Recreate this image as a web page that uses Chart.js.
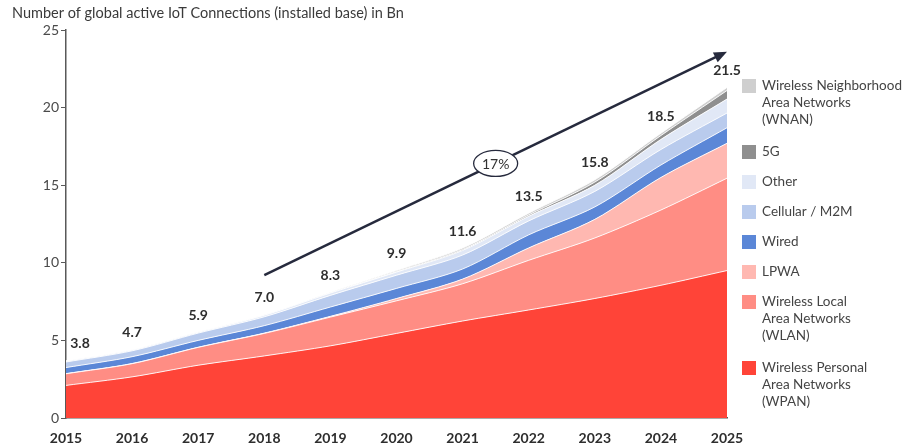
<!DOCTYPE html>
<html>
<head>
<meta charset="utf-8">
<script src="https://cdn.jsdelivr.net/npm/chart.js@4.4.0/dist/chart.umd.min.js"></script>
<style>
  html, body { margin: 0; padding: 0; background: #fff; }
  #wrap { width: 903px; height: 445px; position: relative; }
</style>
</head>
<body>
<div id="wrap"><canvas id="iotChart"></canvas></div>
<script>
// Data (Bn connections per technology)
const years = ['2015', '2016', '2017', '2018', '2019', '2020', '2021', '2022', '2023', '2024', '2025'];
const wpan     = [2.1, 2.65, 3.4, 4.0, 4.65, 5.45, 6.25, 6.96, 7.7, 8.55, 9.5];
const wlan     = [0.75, 0.85, 1.15, 1.45, 1.85, 2.1, 2.4, 3.2, 3.9, 4.85, 5.95];
const lpwa     = [0.01, 0.01, 0.01, 0.02, 0.05, 0.15, 0.3, 0.8, 1.2, 2.1, 2.25];
const wired    = [0.39, 0.44, 0.44, 0.48, 0.6, 0.65, 0.65, 0.84, 0.8, 0.8, 1.0];
const cellular = [0.36, 0.38, 0.47, 0.57, 0.75, 0.85, 0.9, 0.9, 1.0, 1.0, 0.95];
const other    = [0.05, 0.05, 0.05, 0.1, 0.15, 0.2, 0.3, 0.3, 0.4, 0.65, 0.9];
const fiveG    = [0, 0, 0, 0, 0, 0.03, 0.05, 0.08, 0.2, 0.25, 0.55];
const wnan     = [0.02, 0.02, 0.02, 0.03, 0.04, 0.07, 0.1, 0.12, 0.15, 0.15, 0.2];
const totalLabels = ['3.8', '4.7', '5.9', '7.0', '8.3', '9.9', '11.6', '13.5', '15.8', '18.5', '21.5'];
const yTicks = [0, 5, 10, 15, 20, 25];
const cagrLabel = '17%';
const arrowFrom = { year: '2018', value: 9.2 };
const arrowTo = { year: '2025', value: 23.6 };
const chartTitle = 'Number of global active IoT Connections (installed base) in Bn';

const FONT = 'Lato, "Open Sans", sans-serif';

// bottom to top of the stack
const series = [
  { label: ['Wireless Personal', 'Area Networks', '(WPAN)'], data: wpan, color: '#ff4438' },
  { label: ['Wireless Local', 'Area Networks', '(WLAN)'], data: wlan, color: '#ff8d84' },
  { label: ['LPWA'], data: lpwa, color: '#ffb8b1' },
  { label: ['Wired'], data: wired, color: '#5b87d7' },
  { label: ['Cellular / M2M'], data: cellular, color: '#b9cbed' },
  { label: ['Other'], data: other, color: '#e1e8f6' },
  { label: ['5G'], data: fiveG, color: '#8f8f8f' },
  { label: ['Wireless Neighborhood', 'Area Networks', '(WNAN)'], data: wnan, color: '#cfcfcf' }
];

const datasets = series.map((s, i) => ({
  label: s.label.join(' '),
  data: s.data,
  backgroundColor: s.color,
  borderColor: 'rgba(255,255,255,0.9)',
  borderWidth: 1,
  pointRadius: 0,
  tension: 0.3,
  fill: i === 0 ? 'origin' : '-1'
}));

// Title, totals, CAGR arrow and legend
const extrasPlugin = {
  id: 'extras',
  afterDraw(chart) {
    const { ctx, scales: { x, y } } = chart;
    ctx.save();

    ctx.fillStyle = '#3a3a3a';
    ctx.font = '14.5px ' + FONT;
    ctx.textAlign = 'left';
    ctx.textBaseline = 'middle';
    ctx.fillText(chartTitle, 12, 13);

    // totals above the stack
    ctx.font = 'bold 14px ' + FONT;
    ctx.fillStyle = '#2e2e2e';
    ctx.textAlign = 'center';
    years.forEach((yr, i) => {
      const sum = series.reduce((a, s) => a + s.data[i], 0);
      let px = x.getPixelForValue(i);
      if (i === 0) px += 14;
      ctx.fillText(totalLabels[i], px, y.getPixelForValue(sum) - 17);
    });

    // CAGR arrow
    const x0 = x.getPixelForValue(years.indexOf(arrowFrom.year));
    const y0 = y.getPixelForValue(arrowFrom.value);
    const x1 = x.getPixelForValue(years.indexOf(arrowTo.year));
    const y1 = y.getPixelForValue(arrowTo.value);
    const ang = Math.atan2(y1 - y0, x1 - x0);
    ctx.strokeStyle = '#262a3d';
    ctx.fillStyle = '#262a3d';
    ctx.lineWidth = 2.5;
    ctx.beginPath();
    ctx.moveTo(x0, y0);
    ctx.lineTo(x1 - 8 * Math.cos(ang), y1 - 8 * Math.sin(ang));
    ctx.stroke();
    ctx.beginPath();
    ctx.moveTo(x1, y1);
    ctx.lineTo(x1 - 13 * Math.cos(ang) + 5.5 * Math.sin(ang), y1 - 13 * Math.sin(ang) - 5.5 * Math.cos(ang));
    ctx.lineTo(x1 - 13 * Math.cos(ang) - 5.5 * Math.sin(ang), y1 - 13 * Math.sin(ang) + 5.5 * Math.cos(ang));
    ctx.closePath();
    ctx.fill();

    const mx = (x0 + x1) / 2, my = (y0 + y1) / 2;
    ctx.beginPath();
    ctx.ellipse(mx, my, 22, 13, 0, 0, Math.PI * 2);
    ctx.fillStyle = '#fff';
    ctx.fill();
    ctx.lineWidth = 1.3;
    ctx.stroke();
    ctx.fillStyle = '#333';
    ctx.font = '14px ' + FONT;
    ctx.fillText(cagrLabel, mx, my + 1);

    // legend, top of stack first
    ctx.textAlign = 'left';
    ctx.font = '13.5px ' + FONT;
    let ly = 86;
    series.slice().reverse().forEach(s => {
      ctx.fillStyle = s.color;
      ctx.fillRect(742, ly - 7, 14, 14);
      ctx.fillStyle = '#444';
      s.label.forEach((line, k) => ctx.fillText(line, 762, ly + k * 17));
      ly += (s.label.length - 1) * 17 + 30;
      if (s.label.length > 1) ly += 2;
    });

    ctx.restore();
  }
};

new Chart(document.getElementById('iotChart'), {
  type: 'line',
  data: { labels: years, datasets },
  plugins: [extrasPlugin],
  options: {
    responsive: true,
    maintainAspectRatio: false,
    animation: false,
    layout: { padding: { top: 30, right: 176, left: 0, bottom: 0 } },
    plugins: {
      legend: { display: false },
      tooltip: { enabled: false }
    },
    scales: {
      x: {
        offset: false,
        grid: { display: false },
        border: { display: true, color: '#595959', width: 1.5 },
        ticks: { color: '#2e2e2e', font: { family: FONT, size: 14, weight: 'bold' }, padding: 4, maxRotation: 0 },
        afterFit: s => { s.height = 27; }
      },
      y: {
        stacked: true,
        min: 0,
        max: 25,
        afterBuildTicks: s => { s.ticks = yTicks.map(v => ({ value: v })); },
        grid: { display: true, drawOnChartArea: false, drawTicks: true, tickLength: 5, color: '#595959' },
        border: { display: true, color: '#595959', width: 1.5 },
        ticks: { color: '#4a4a4a', font: { family: FONT, size: 14 }, padding: 2 },
        afterFit: s => { s.width = 66; }
      }
    }
  }
});
</script>
</body>
</html>
